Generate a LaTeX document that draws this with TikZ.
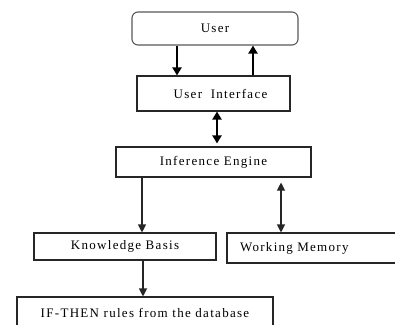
\documentclass[tikz,border=0pt]{standalone}
\usepackage{fontspec}
\setmainfont{Liberation Serif}[LetterSpace=10]
\usetikzlibrary{arrows.meta}
\tikzset{
  box/.style={draw=black!85, line width=1.1pt, rectangle, inner sep=0pt, font=\fontsize{13}{15}\selectfont},
  ubox/.style={box, draw=black!65, rounded corners=6pt},
  thinar/.style={draw=black!85, line width=1.1pt, -{Triangle[length=8pt,width=8pt]}},
  thickar/.style={draw=black, line width=2pt, -{Triangle[length=8pt,width=9pt]}},
  thinbi/.style={draw=black!85, line width=1.1pt, {Triangle[length=8pt,width=8pt]}-{Triangle[length=8pt,width=8pt]}},
  thickbi/.style={draw=black, line width=2pt, {Triangle[length=8pt,width=9pt]}-{Triangle[length=8pt,width=9pt]}},
}
\begin{document}
\begin{tikzpicture}[x=1pt,y=-1pt]
\useasboundingbox (0,0) rectangle (395,324);
\clip (0,0) rectangle (395,324);
\fill[white] (0,0) rectangle (395,324);

\node[ubox, minimum width=166pt, minimum height=33pt] (user) at (215,28.5) {User};
\node[box, minimum width=153pt, minimum height=35pt, text width=153pt, align=center] (ui) at (213.5,93.5) {\hspace*{14pt}User\ \ Interface};
\node[box, minimum width=195pt, minimum height=30pt] (ie) at (213.5,162) {Inference Engine};
\node[box, minimum width=182pt, minimum height=27pt] (kb) at (125,246.5) {Knowledge Basis};
\node[box, minimum width=193pt, minimum height=30pt, text width=167pt, inner xsep=13pt, align=left] (wm) at (323.5,248) {Working Memory};
\node[box, minimum width=256pt, minimum height=32pt] (ift) at (145,313) {IF-THEN rules from the database};

\draw[thickar] ([xshift=-38pt]user.south) -- ([xshift=-38pt]user.south |- ui.north);
\draw[thickar] ([xshift=38pt]user.south |- ui.north) -- ([xshift=38pt]user.south);
\draw[thickbi, shorten >=3pt] ([xshift=3.5pt]ui.south) -- ([xshift=3.5pt]ui.south |- ie.north);
\draw[thinar] ([xshift=-71.5pt]ie.south) -- ([xshift=-71.5pt]ie.south |- kb.north);
\draw[thinbi, shorten <=5pt] ([xshift=67.5pt]ie.south) -- ([xshift=67.5pt]ie.south |- wm.north);
\draw[thinar] ([xshift=18pt]kb.south) -- ([xshift=18pt]kb.south |- ift.north);
\end{tikzpicture}
\end{document}
